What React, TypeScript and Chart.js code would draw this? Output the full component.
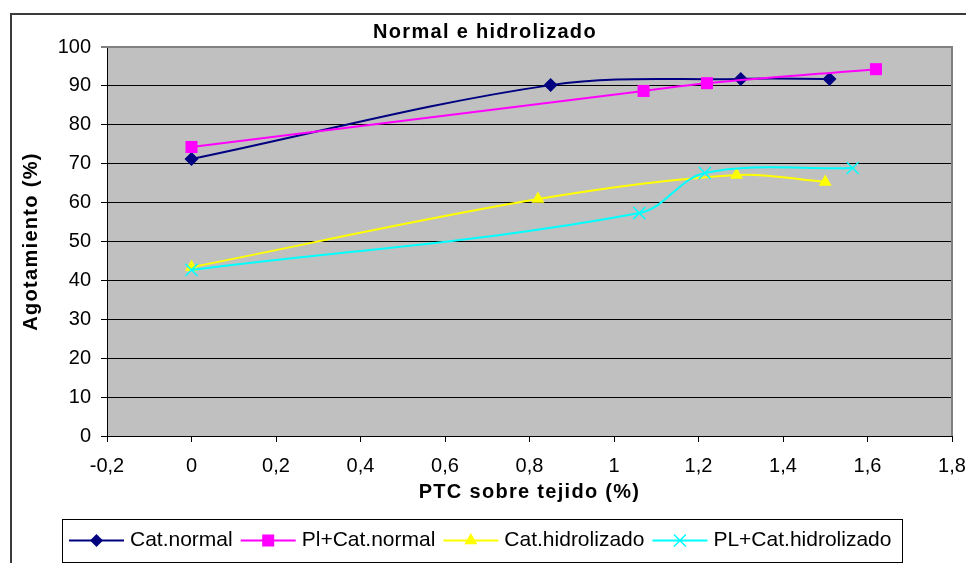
import React, { useEffect, useRef } from 'react';
import { Chart, registerables } from 'chart.js';

Chart.register(...registerables);

const TITLE = 'Normal e hidrolizado';
const X_TITLE = 'PTC sobre tejido (%)';
const Y_TITLE = 'Agotamiento (%)';

const SERIES_NAMES = ['Cat.normal', 'Pl+Cat.normal', 'Cat.hidrolizado', 'PL+Cat.hidrolizado'];
const SERIES_COLORS = ['#000080', '#FF00FF', '#FFFF00', '#00FFFF'];
const SERIES_MARKERS = ['rectRot', 'rect', 'triangle', 'crossRot'];

const catNormalX = [0, 0.85, 1.3, 1.51];
const catNormalY = [71.2, 90.2, 91.8, 91.8];
const plCatNormalX = [0, 1.07, 1.22, 1.62];
const plCatNormalY = [74.3, 88.7, 90.7, 94.3];
const catHidroX = [0, 0.82, 1.29, 1.5];
const catHidroY = [43.4, 60.9, 67.1, 65.3];
const plCatHidroX = [0, 1.06, 1.215, 1.565];
const plCatHidroY = [42.7, 57.3, 67.6, 68.9];

const X_MIN = -0.2;
const X_MAX = 1.8;
const X_STEP = 0.2;
const Y_MIN = 0;
const Y_MAX = 100;
const Y_STEP = 10;

const FONT = '"Liberation Sans", Arial, sans-serif';
const TITLE_SPACING = '1.3px';

const toPoints = (xs: number[], ys: number[]) => xs.map((x, i) => ({ x, y: ys[i] }));

const SERIES = [
  toPoints(catNormalX, catNormalY),
  toPoints(plCatNormalX, plCatNormalY),
  toPoints(catHidroX, catHidroY),
  toPoints(plCatHidroX, plCatHidroY),
];

const MARKER_RADIUS: Record<string, number> = { rectRot: 7, rect: 8.5, triangle: 7.5, crossRot: 8.5 };

function drawMarker(ctx: CanvasRenderingContext2D, style: string, x: number, y: number, color: string) {
  ctx.save();
  ctx.fillStyle = color;
  ctx.strokeStyle = color;
  ctx.beginPath();
  if (style === 'rectRot') {
    const r = 6.5;
    ctx.moveTo(x, y - r);
    ctx.lineTo(x + r, y);
    ctx.lineTo(x, y + r);
    ctx.lineTo(x - r, y);
    ctx.closePath();
    ctx.fill();
  } else if (style === 'rect') {
    const s = 6;
    ctx.rect(x - s, y - s, 2 * s, 2 * s);
    ctx.fill();
  } else if (style === 'triangle') {
    const r = 7.5;
    ctx.moveTo(x, y - r);
    ctx.lineTo(x + r * 0.866, y + r * 0.5);
    ctx.lineTo(x - r * 0.866, y + r * 0.5);
    ctx.closePath();
    ctx.fill();
  } else {
    const s = 6;
    ctx.lineWidth = 1.5;
    ctx.moveTo(x - s, y - s);
    ctx.lineTo(x + s, y + s);
    ctx.moveTo(x + s, y - s);
    ctx.lineTo(x - s, y + s);
    ctx.stroke();
  }
  ctx.restore();
}

function withSpacing(obj: any, key: string) {
  if (!obj || obj.__spaced) return;
  const orig = obj[key].bind(obj);
  obj[key] = function (...args: any[]) {
    const c: any = this.ctx;
    const prev = c.letterSpacing;
    c.letterSpacing = TITLE_SPACING;
    orig(...args);
    c.letterSpacing = prev || '0px';
  };
  obj.__spaced = true;
}

const spacingPlugin = {
  id: 'titleSpacing',
  afterUpdate(chart: any) {
    Object.values(chart.scales).forEach((s: any) => withSpacing(s, 'drawTitle'));
    withSpacing(chart.titleBlock, 'draw');
  },
};

const framePlugin = {
  id: 'frame',
  beforeDraw(chart: any) {
    const { ctx, chartArea } = chart;
    ctx.save();
    ctx.fillStyle = '#FFFFFF';
    ctx.fillRect(0, 0, chart.width, chart.height);
    ctx.strokeStyle = '#3c3c3c';
    ctx.lineWidth = 2;
    ctx.strokeRect(11, 14, 1000, 600);
    ctx.fillStyle = '#C0C0C0';
    ctx.fillRect(chartArea.left, chartArea.top, chartArea.right - chartArea.left, chartArea.bottom - chartArea.top);
    ctx.restore();
  },
  beforeDatasetsDraw(chart: any) {
    const { ctx, chartArea } = chart;
    ctx.save();
    ctx.strokeStyle = '#808080';
    ctx.lineWidth = 2;
    ctx.beginPath();
    ctx.moveTo(chartArea.left, chartArea.top);
    ctx.lineTo(chartArea.right, chartArea.top);
    ctx.lineTo(chartArea.right, chartArea.bottom);
    ctx.stroke();
    ctx.restore();
  },
};

const legendPlugin = {
  id: 'boxLegend',
  afterDraw(chart: any) {
    const ctx: CanvasRenderingContext2D = chart.ctx;
    ctx.save();
    ctx.fillStyle = '#FFFFFF';
    ctx.fillRect(62, 519, 840, 43);
    ctx.strokeStyle = '#000000';
    ctx.lineWidth = 1;
    ctx.strokeRect(62.5, 519.5, 840, 43);
    ctx.font = `21px ${FONT}`;
    ctx.textBaseline = 'middle';
    ctx.textAlign = 'left';
    const cy = 540.5;
    let x = 69;
    chart.data.datasets.forEach((ds: any, i: number) => {
      ctx.strokeStyle = ds.borderColor;
      ctx.lineWidth = 2;
      ctx.beginPath();
      ctx.moveTo(x, cy);
      ctx.lineTo(x + 55, cy);
      ctx.stroke();
      drawMarker(ctx, SERIES_MARKERS[i], x + 27.5, cy, ds.borderColor);
      ctx.fillStyle = '#000000';
      ctx.fillText(ds.label, x + 61, cy);
      x += 61 + ctx.measureText(ds.label).width + 8;
    });
    ctx.restore();
  },
};

function fmtX(v: number) {
  const r = Math.round(v * 10) / 10;
  return String(r).replace('.', ',');
}

export default function App() {
  const ref = useRef<HTMLCanvasElement | null>(null);

  useEffect(() => {
    if (!ref.current) return;
    const chart = new Chart(ref.current, {
      type: 'line',
      data: {
        datasets: SERIES.map((pts, i) => ({
          label: SERIES_NAMES[i],
          data: pts,
          borderColor: SERIES_COLORS[i],
          backgroundColor: SERIES_COLORS[i],
          pointBackgroundColor: SERIES_COLORS[i],
          pointBorderColor: SERIES_COLORS[i],
          pointStyle: SERIES_MARKERS[i] as any,
          pointRadius: MARKER_RADIUS[SERIES_MARKERS[i]],
          pointBorderWidth: SERIES_MARKERS[i] === 'crossRot' ? 1.5 : 0,
          borderWidth: 2,
          tension: 0.35,
          fill: false,
          order: SERIES.length - i,
        })),
      },
      options: {
        responsive: false,
        animation: false,
        events: [],
        layout: { padding: { left: 18, right: 14, top: 20, bottom: 57 } },
        plugins: {
          legend: { display: false },
          tooltip: { enabled: false },
          title: {
            display: true,
            text: TITLE,
            color: '#000',
            font: { family: FONT, size: 20, weight: 'bold', lineHeight: 1.2 },
            padding: { top: 0, bottom: 3 },
          },
        },
        scales: {
          x: {
            type: 'linear',
            min: X_MIN,
            max: X_MAX,
            afterFit: (s: any) => {
              s.height = 70;
              s.paddingLeft = 0;
              s.paddingRight = 0;
            },
            ticks: {
              stepSize: X_STEP,
              color: '#000',
              font: { family: FONT, size: 20 },
              padding: 12,
              maxRotation: 0,
              callback: (v: any) => fmtX(Number(v)),
            },
            grid: { drawOnChartArea: false, drawTicks: true, tickLength: 6, tickColor: '#000' },
            border: { color: '#000', width: 1 },
            title: {
              display: true,
              text: X_TITLE,
              color: '#000',
              font: { family: FONT, size: 20, weight: 'bold', lineHeight: 1.2 },
              padding: { top: 0, bottom: 2 },
            },
          },
          y: {
            type: 'linear',
            min: Y_MIN,
            max: Y_MAX,
            afterFit: (s: any) => {
              s.width = 89;
              s.paddingTop = 0;
              s.paddingBottom = 0;
            },
            ticks: {
              stepSize: Y_STEP,
              color: '#000',
              font: { family: FONT, size: 20 },
              padding: 10,
            },
            grid: {
              color: (c: any) => (c.tick && c.tick.value === Y_MAX ? '#808080' : '#000'),
              lineWidth: (c: any) => (c.tick && c.tick.value === Y_MAX ? 2 : 1),
              tickLength: 6,
              tickColor: '#000',
              tickWidth: 1,
            },
            border: { color: '#000', width: 1 },
            title: {
              display: true,
              text: Y_TITLE,
              color: '#000',
              font: { family: FONT, size: 20, weight: 'bold', lineHeight: 1.2 },
              padding: { top: 1, bottom: 0 },
            },
          },
        },
      },
      plugins: [spacingPlugin, framePlugin, legendPlugin],
    } as any);
    return () => chart.destroy();
  }, []);

  return (
    <div style={{ position: 'fixed', left: 0, top: 0, width: 966, height: 563, background: '#fff' }}>
      <canvas ref={ref} width={966} height={563} style={{ display: 'block' }} />
    </div>
  );
}
